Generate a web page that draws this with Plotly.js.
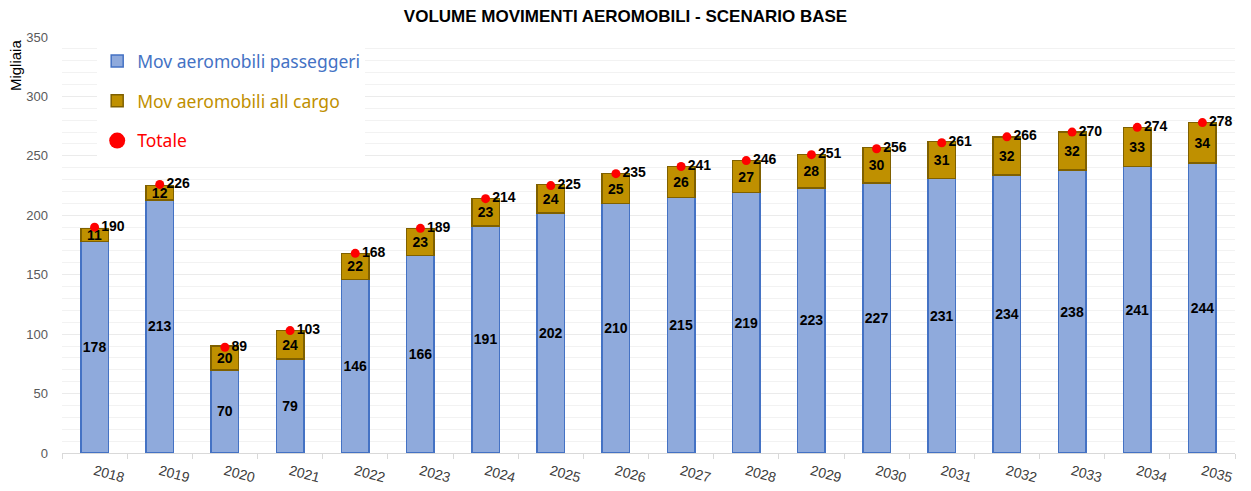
<!DOCTYPE html>
<html>
<head>
<meta charset="utf-8">
<script src="https://cdn.plot.ly/plotly-3.0.1.min.js"></script>
<style>html,body{margin:0;padding:0;background:#fff;}#chart{width:1251px;height:491px;}</style>
</head>
<body>
<div id="chart"></div>
<script>
const years = ['2018','2019','2020','2021','2022','2023','2024','2025','2026','2027','2028','2029','2030','2031','2032','2033','2034','2035'];
const passeggeri = [178,213,70,79,146,166,191,202,210,215,219,223,227,231,234,238,241,244];
const cargo = [11,12,20,24,22,23,23,24,25,26,27,28,30,31,32,32,33,34];
const totale = [190,226,89,103,168,189,214,225,235,241,246,251,256,261,266,270,274,278];

const lblFont = {family: 'Liberation Sans, Arial, sans-serif', size: 14, color: '#000', weight: 'bold'};

const traces = [
  {
    type: 'bar', x: years, y: passeggeri, name: '<span style="color:#4472C4">Mov aeromobili passeggeri</span>',
    legendgroup: 'a',
    marker: {color: '#8FAADC', line: {color: '#4472C4', width: 1.5}},
    text: passeggeri.map(String), textposition: 'inside', insidetextanchor: 'middle', constraintext: 'none',
    textfont: lblFont, textangle: 0, hoverinfo: 'skip'
  },
  {
    type: 'bar', x: years, y: cargo, name: '<span style="color:#BF9000">Mov aeromobili all cargo</span>',
    legendgroup: 'b',
    marker: {color: '#BF9000', line: {color: '#7F6000', width: 1.5}},
    text: cargo.map(String), textposition: 'inside', insidetextanchor: 'middle', constraintext: 'none',
    textfont: lblFont, textangle: 0, hoverinfo: 'skip'
  },
  {
    type: 'scatter', mode: 'markers+text', x: years, y: totale, name: 'Totale',
    showlegend: false,
    marker: {color: '#FF0000', size: 9},
    text: totale.map(String), textposition: 'middle right',
    textfont: {family: 'Liberation Sans, Arial, sans-serif', size: 14, color: '#000', weight: 'bold'},
    cliponaxis: false, hoverinfo: 'skip'
  },
  {
    type: 'scatter', mode: 'markers', x: [null], y: [null], name: '<span style="color:#FF0000">Totale</span>',
    legendgroup: 'c',
    marker: {color: '#FF0000', size: 16}, hoverinfo: 'skip'
  }
];

const layout = {
  width: 1251, height: 491,
  margin: {l: 62, r: 16, t: 37, b: 38},
  paper_bgcolor: '#fff', plot_bgcolor: '#fff',
  barmode: 'stack', bargap: 0.58,
  title: {text: 'VOLUME MOVIMENTI AEROMOBILI - SCENARIO BASE', x: 0.5, xanchor: 'center', y: 0.968, yanchor: 'middle',
          font: {family: 'Liberation Sans, Arial, sans-serif', size: 17, color: '#000', weight: 'bold'}},
  xaxis: {
    type: 'category', range: [-0.5, 17.5], tickson: 'boundaries', ticks: 'outside', ticklen: 5, tickcolor: '#d9d9d9',
    showline: true, linecolor: '#d9d9d9', linewidth: 1, showgrid: false, ticklabelstandoff: 4,
    tickangle: 15, tickfont: {family: 'Liberation Sans, Arial, sans-serif', size: 14, color: '#404040'}
  },
  yaxis: {
    range: [0, 350], dtick: 50, showgrid: true, gridcolor: '#ebebeb', gridwidth: 1,
    minor: {dtick: 10, showgrid: true, gridcolor: '#f2f2f2', gridwidth: 1},
    zeroline: false, showline: false, ticks: '', ticklabelstandoff: 13,
    tickfont: {family: 'Liberation Sans, Arial, sans-serif', size: 13, color: '#595959'}
  },
  legend: {
    x: 0.03, y: 0.985, xanchor: 'left', yanchor: 'top',
    bgcolor: '#fff', borderwidth: 0, traceorder: 'grouped', tracegroupgap: 14,
    itemsizing: 'trace',
    font: {family: 'Noto Sans, DejaVu Sans, sans-serif', size: 17.5}
  },
  annotations: [{
    text: 'Migliaia', xref: 'paper', yref: 'paper', x: -0.04, y: 1.0, xanchor: 'center', yanchor: 'top',
    textangle: -90, showarrow: false,
    font: {family: 'Liberation Sans, Arial, sans-serif', size: 15, color: '#000'}
  }]
};

Plotly.newPlot('chart', traces, layout, {displayModeBar: false, staticPlot: true});
</script>
</body>
</html>
